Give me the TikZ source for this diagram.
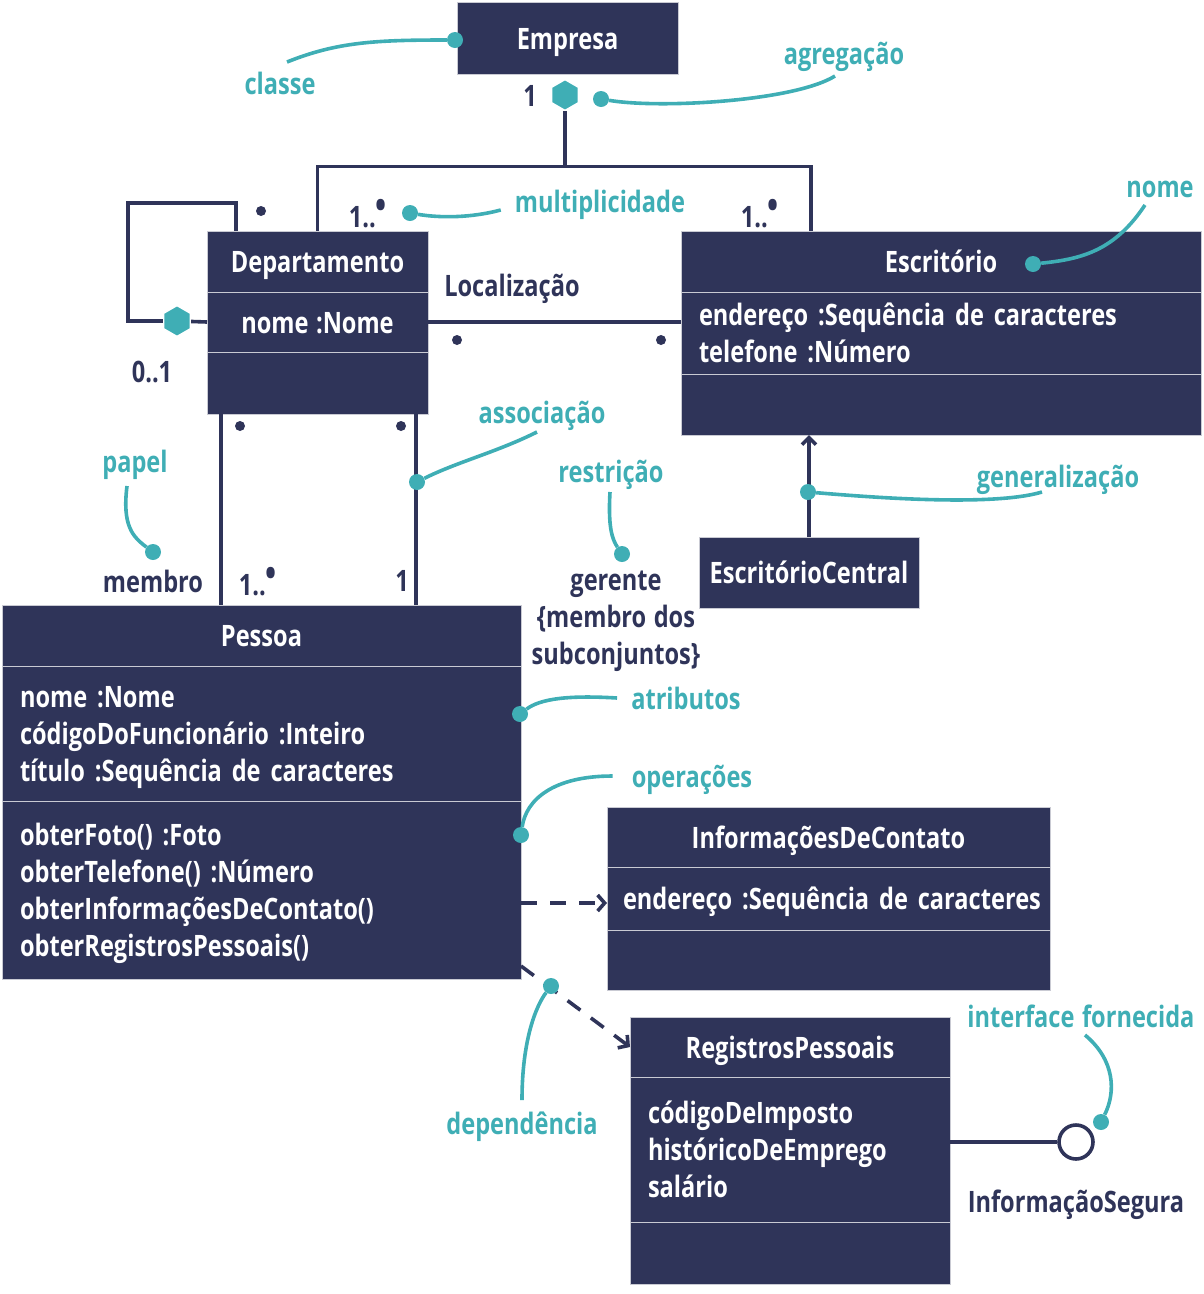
\documentclass[tikz,border=0pt]{standalone}
\usepackage{fontspec}
\setmainfont{Open Sans}[FakeStretch=0.8]
\usetikzlibrary{shapes.geometric, arrows.meta, positioning}
\definecolor{umlnavy}{HTML}{2F3459}
\definecolor{umlteal}{HTML}{3FAEB5}
\definecolor{umlrule}{HTML}{C9CAD3}
\newcommand\umltext{\fontsize{29.5}{37}\selectfont\bfseries\spaceskip=7.5pt plus 2pt minus 1pt\relax}
\newcommand\many{\raisebox{.55ex}{\scalebox{1.25}{•}}}

\begin{document}
\begin{tikzpicture}[
    x=1pt, y=-1pt,
    box/.style={rectangle, fill=umlnavy, draw=umlrule, line width=0.8pt, text=white, font=\umltext, inner sep=0pt, outer sep=0pt},
    head/.style={box, align=center, text height=22pt, text depth=0pt},
    part/.style={box, align=left, inner xsep=18pt},
    lbl/.style={text=umlnavy, font=\umltext, inner sep=0pt, text depth=0pt},
    note/.style={text=umlteal, font=\umltext, inner sep=0pt, text depth=0pt},
    mdot/.style={circle, fill=umlnavy, inner sep=0pt, minimum size=10pt},
    tdot/.style={circle, fill=umlteal, inner sep=0pt, minimum size=16pt},
    agg/.style={regular polygon, regular polygon sides=6, shape border rotate=30, fill=umlteal, draw=white, line width=1.5pt, minimum size=31pt, inner sep=0pt},
    iface/.style={circle, draw=umlnavy, line width=3.6pt, fill=white, minimum size=34pt, inner sep=0pt},
    link/.style={draw=umlnavy, line width=3.6pt},
    gen/.style={link, -{Straight Barb[length=7pt, width=14pt]}},
    dep/.style={link, dash pattern=on 16pt off 13pt, -{Straight Barb[length=7pt, width=16pt]}},
    callout/.style={draw=umlteal, line width=3.6pt}
]
\useasboundingbox (0,0) rectangle (1203,1294);
% Classes
\node[head, minimum width=221pt, minimum height=72pt] (emp) at (567.5,38) {Empresa};

\node[head, minimum width=221pt, minimum height=61pt] (depH) at (317.5,261.5) {Departamento};
\node[head, minimum width=221pt, minimum height=60pt, below=0pt of depH] (depA) {nome :Nome};
\node[head, minimum width=221pt, minimum height=62pt, below=0pt of depA] (depB) {};

\node[head, minimum width=520pt, minimum height=61pt] (escH) at (941,261.5) {Escritório};
\node[part, text width=484pt, minimum height=82pt, below=0pt of escH] (escA) {endereço :Sequência de caracteres\\telefone :Número};
\node[head, minimum width=520pt, minimum height=61pt, below=0pt of escA] (escB) {};

\node[head, minimum width=220pt, minimum height=71pt] (ecen) at (809,572.5) {EscritórioCentral};

\node[head, minimum width=519pt, minimum height=61pt] (pesH) at (261.5,635.5) {Pessoa};
\node[part, text width=483pt, minimum height=135pt, below=0pt of pesH] (pesA) {nome :Nome\\códigoDoFuncionário :Inteiro\\\smash{título :Sequência de caracteres}};
\node[part, text width=483pt, minimum height=178pt, below=0pt of pesA] (pesO) {obterFoto() :Foto\\obterTelefone() :Número\\obterInformaçõesDeContato()\\\smash{obterRegistrosPessoais()}};

\node[head, minimum width=443pt, minimum height=60pt] (infH) at (828.5,837) {InformaçõesDeContato};
\node[part, inner xsep=16pt, text width=411pt, minimum height=63pt, text depth=0pt, below=0pt of infH] (infA) {\mbox{endereço :Sequência de caracteres}};
\node[head, minimum width=443pt, minimum height=60pt, below=0pt of infA] (infB) {};

\node[head, minimum width=320pt, minimum height=60pt] (regH) at (790,1047) {RegistrosPessoais};
\node[part, text width=284pt, minimum height=145pt, below=0pt of regH] (regA) {códigoDeImposto\\históricoDeEmprego\\salário};
\node[head, minimum width=320pt, minimum height=62pt, below=0pt of regA] (regB) {};

% Aggregations and interface
\node[agg] (agg1) at (565,95) {};
\node[agg] (agg2) at (177,321) {};
\node[iface] (iface) at (1076,1142) {};

% Multiplicities and roles
\node[lbl] (m1) at (530,96) {1};
\node[lbl] (mDep) at (368,213) {1..\many};
\node[lbl] (mEsc) at (760,213) {1..\many};
\node[mdot] (mLoop) at (261,211) {};
\node[lbl] (mZero) at (152,372) {0..1};
\node[lbl] (loc) at (512,285) {Localização};
\node[mdot] (mLocA) at (457,340) {};
\node[mdot] (mLocB) at (661,340) {};
\node[mdot] (mMemA) at (240,426) {};
\node[mdot] (mMemB) at (401,426) {};
\node[lbl] (membro) at (153,581) {membro};
\node[lbl] (mMem) at (258,581) {1..\many};
\node[lbl] (mGer) at (402,581) {1};
\node[lbl, align=center] (gerente) at (616,618) {gerente\\\{membro dos\\subconjuntos\}};
\node[lbl] (segura) at (1076,1201) {InformaçãoSegura};

% Connectors
\draw[link] (agg1.south) -- ++(0,55) coordinate (split) -| (depH.north);
\draw[link] (split) -| ([xshift=130pt]escH.north west);
\draw[link] (depA.west) -- (agg2);
\draw[link] (agg2) -| ++(-49,-118) -| ([xshift=29pt]depH.north west);
\draw[link] (depA.east) -- (depA.east -| escA.west);
\draw[link] ([xshift=14pt]depB.south west) -- ([xshift=14pt]depB.south west |- pesH.north);
\draw[link] ([xshift=-12pt]depB.south east) -- ([xshift=-12pt]depB.south east |- pesH.north);
\draw[gen] (ecen.north) -- (ecen.north |- escB.south);
\draw[dep] ([yshift=-13pt]pesO.east) -- ([yshift=-13pt]pesO.east -| infA.west);
\draw[dep] ([yshift=13pt]pesO.south east) -- (regH.west);
\draw[link] (iface) -- (iface -| regA.east);

% Notes
\node[note] (nClasse) at (280,83) {classe};
\node[note] (nAgreg) at (844,53) {agregação};
\node[note] (nMult) at (600,201) {multiplicidade};
\node[note] (nNome) at (1160,189) {nome};
\node[note] (nAssoc) at (542,412) {associação};
\node[note] (nPapel) at (135,461) {papel};
\node[note] (nRestr) at (611,471) {restrição};
\node[note] (nGen) at (1058,476) {generalização};
\node[note] (nAtrib) at (686,698) {atributos};
\node[note] (nOper) at (692,776) {operações};
\node[note] (nDep) at (522,1123) {dependência};
\node[note] (nIface) at (1081,1016) {interface fornecida};

\node[tdot] (dClasse) at (455,40) {};
\node[tdot] (dAgreg) at (601,99) {};
\node[tdot] (dMult) at (410,213) {};
\node[tdot] (dNome) at (1033,264) {};
\node[tdot] (dAssoc) at (417,482) {};
\node[tdot] (dPapel) at (153,552) {};
\node[tdot] (dRestr) at (622,554) {};
\node[tdot] (dGen) at (808,492) {};
\node[tdot] (dAtrib) at (520,714) {};
\node[tdot] (dOper) at (521,835) {};
\node[tdot] (dDep) at (551,986) {};
\node[tdot] (dIface) at (1101,1122) {};

\draw[callout] ([shift={(7,-21)}]nClasse.center) .. controls +(50,-20) and +(-80,0) .. (dClasse);
\draw[callout] ([shift={(-9,23)}]nAgreg.center) .. controls +(-40,25) and +(60,10) .. (dAgreg);
\draw[callout] ([shift={(-14,9)}]nMult.west) .. controls +(-30,8) and +(30,5) .. (dMult);
\draw[callout] ([shift={(-15,16)}]nNome.center) .. controls +(-30,45) and +(50,-5) .. (dNome);
\draw[callout] ([shift={(-5,20)}]nAssoc.center) .. controls +(-40,20) and +(40,-20) .. (dAssoc);
\draw[callout] ([shift={(-8,25)}]nPapel.center) .. controls +(-5,40) and +(-20,-15) .. (dPapel);
\draw[callout] ([shift={(-1,21)}]nRestr.center) .. controls +(-2,35) and +(-10,-15) .. (dRestr);
\draw[callout] ([shift={(-16,16)}]nGen.center) .. controls +(-50,15) and +(60,5) .. (dGen);
\draw[callout] ([xshift=-14pt]nAtrib.west) .. controls +(-50,-3) and +(20,-15) .. (dAtrib);
\draw[callout] ([xshift=-19pt]nOper.west) .. controls +(-60,0) and +(5,-35) .. (dOper);
\draw[callout] ([shift={(0,-23)}]nDep.center) .. controls +(0,-60) and +(-15,20) .. (dDep);
\draw[callout] ([shift={(4,19)}]nIface.center) .. controls +(30,25) and +(15,-30) .. (dIface);
\end{tikzpicture}
\end{document}
